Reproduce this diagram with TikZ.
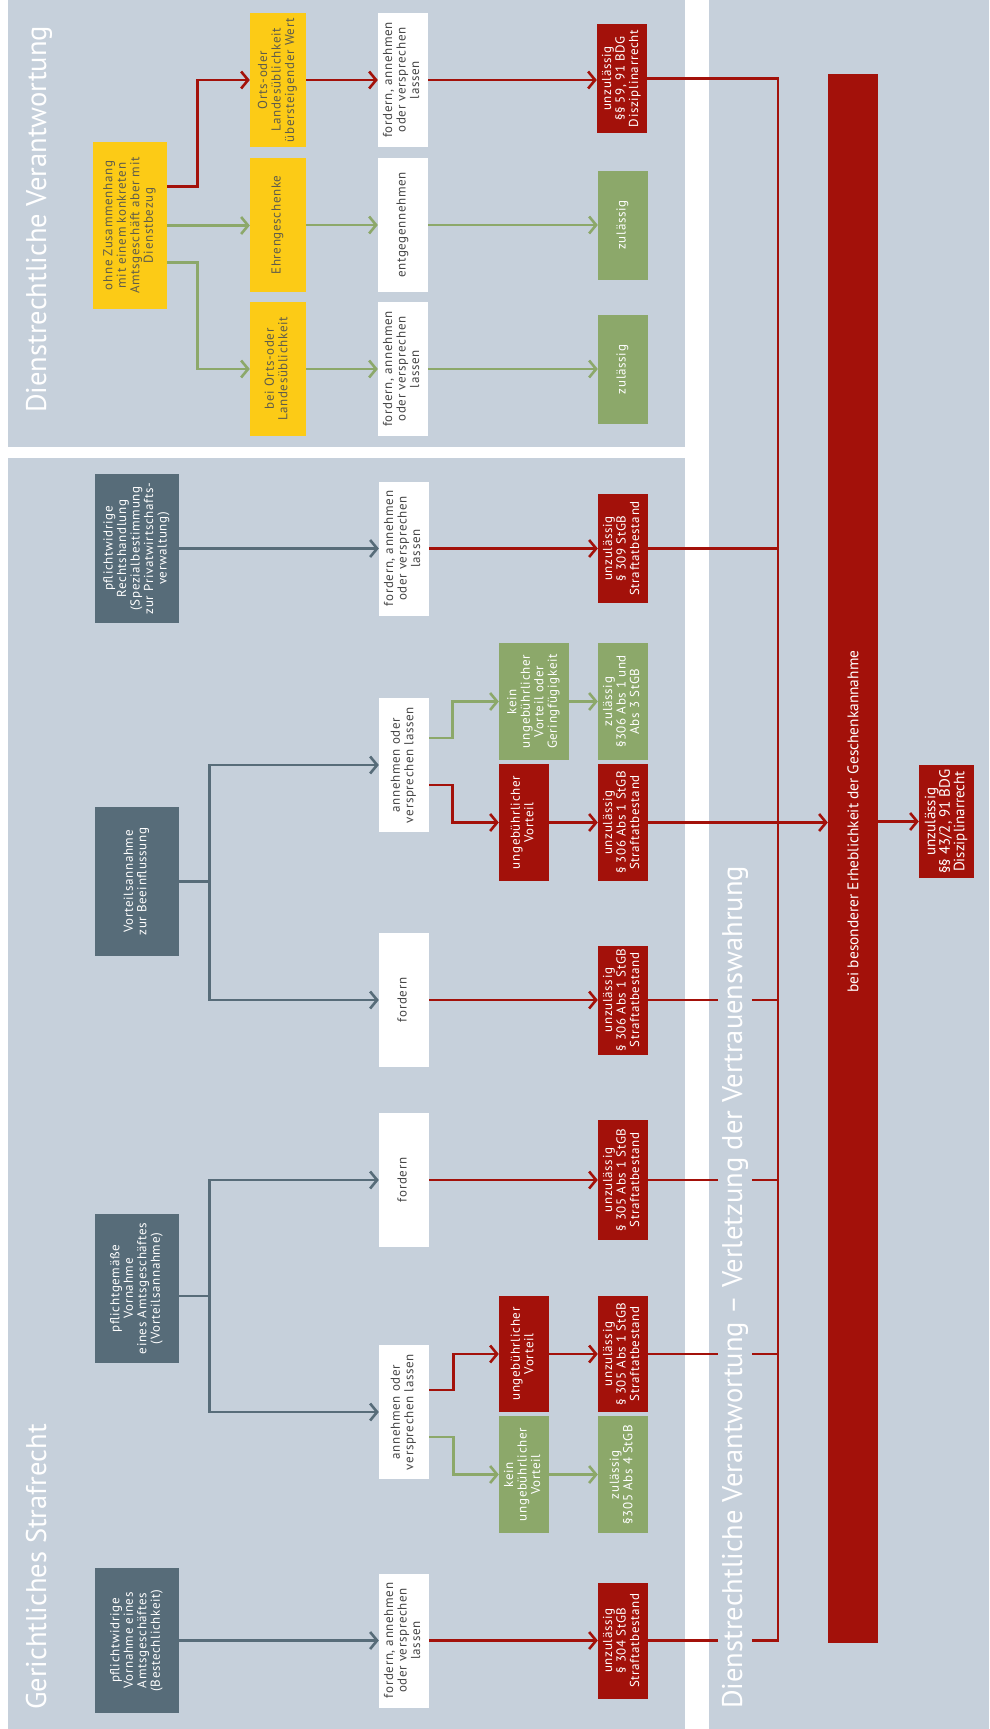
\documentclass[tikz,border=0pt]{standalone}
\usepackage{fontspec}
\usepackage{graphicx}
\setmainfont{PT Sans}
\newfontfamily\boxfont[LetterSpace=5]{PT Sans}
\newfontfamily\titlefont{PT Sans}
\usetikzlibrary{arrows.meta,calc}
\definecolor{panelblue}{RGB}{198,208,219}
\definecolor{slategray}{RGB}{87,108,121}
\definecolor{crimsonred}{RGB}{163,17,10}
\definecolor{sagegreen}{RGB}{140,168,106}
\definecolor{signalyellow}{RGB}{252,203,22}
\definecolor{boxtext}{RGB}{70,70,70}
\definecolor{yellowtext}{RGB}{95,92,75}
\newcommand{\vt}[1]{\rotatebox{90}{\begin{tabular}{@{}c@{}}#1\end{tabular}}}

\begin{document}
\begin{tikzpicture}[x=1pt,y=-1pt,
    box/.style={inner sep=0pt, minimum width=50pt,
      font={\boxfont\fontsize{13}{13.5}\selectfont}},
    yellowbox/.style={box, fill=signalyellow, text=yellowtext},
    whitebox/.style={box, fill=white, text=boxtext, minimum height=134pt},
    redbox/.style={box, fill=crimsonred, text=white},
    greenbox/.style={box, fill=sagegreen, text=white},
    slatebox/.style={box, fill=slategray, text=white, minimum width=84pt},
    paneltitle/.style={rotate=90, anchor=base west, inner sep=0pt, text=white,
      font={\titlefont\fontsize{28.5}{30}\selectfont}},
    wire/.style={line width=2.6pt},
    arr/.style={wire, -{Straight Barb[length=7pt,width=17pt]}},
    redarrow/.style={arr, crimsonred},
    greenarrow/.style={arr, sagegreen},
    slatearrow/.style={arr, slategray},
    redwire/.style={wire, crimsonred}]

  % panels
  \fill[white] (0,0) rectangle (989,1729);
  \fill[panelblue] (8,0) rectangle (685,447);
  \fill[panelblue] (8,458) rectangle (685,1729);
  \fill[panelblue] (709,0) rectangle (989,1729);

  \node[paneltitle] (t1) at (46,413) {Dienstrechtliche Verantwortung};
  \node[paneltitle] (t2) at (46,1710) {Gerichtliches Strafrecht};

  % Dienstrecht
  \node[yellowbox, minimum width=74pt, minimum height=167pt] (y1) at (130,225.5)
    {\vt{ohne Zusammenhang\\mit einem konkreten\\Amtsgeschäft aber mit\\Dienstbezug}};
  \node[yellowbox, minimum width=56pt, minimum height=134pt] (y2) at (278,80)
    {\vt{Orts-oder\\Landesüblichkeit\\übersteigender Wert}};
  \node[yellowbox, minimum width=56pt, minimum height=134pt] (y3) at (278,225)
    {\vt{Ehrengeschenke}};
  \node[yellowbox, minimum width=56pt, minimum height=134pt] (y4) at (278,369)
    {\vt{bei Orts-oder\\Landesüblichkeit}};
  \node[whitebox] (w1) at (403,80) {\vt{fordern, annehmen\\oder versprechen\\lassen}};
  \node[whitebox] (w2) at (403,225) {\vt{entgegennehmen}};
  \node[whitebox] (w3) at (403,369) {\vt{fordern, annehmen\\oder versprechen\\lassen}};
  \node[redbox, minimum height=109pt] (r1) at (622,78.5)
    {\vt{unzulässig\\§§ 59, 91 BDG\\Disziplinarrecht}};
  \node[greenbox, minimum height=109pt] (g1) at (623,225) {\vt{zulässig}};
  \node[greenbox, minimum height=109pt] (g2) at (623,369.5) {\vt{zulässig}};

  % Strafrecht
  \node[slatebox, minimum height=149pt] (s1) at (137,548.5)
    {\vt{pflichtwidrige\\Rechtshandlung\\(Spezialbestimmung\\zur Privatwirtschafts-\\verwaltung)}};
  \node[whitebox] (w4) at (404,548.5) {\vt{fordern, annehmen\\oder versprechen\\lassen}};
  \node[redbox, minimum height=109pt] (r2) at (623,548.5)
    {\vt{unzulässig\\§ 309 StGB\\Straftatbestand}};

  \node[slatebox, minimum height=149pt] (s2) at (137,881.5)
    {\vt{Vorteilsannahme\\zur Beeinflussung}};
  \node[whitebox] (w5) at (404,765) {\vt{annehmen oder\\versprechen lassen}};
  \node[greenbox, minimum width=70pt, minimum height=117pt] (g3) at (534,701.5)
    {\vt{kein\\ungebührlicher\\Vorteil oder\\Geringfügigkeit}};
  \node[greenbox, minimum height=117pt] (g4) at (623,701.5)
    {\vt{zulässig\\§306 Abs 1 und\\Abs 3 StGB}};
  \node[redbox, minimum height=117pt] (r3) at (524,822.5) {\vt{ungebührlicher\\Vorteil}};
  \node[redbox, minimum height=117pt] (r4) at (623,822.5)
    {\vt{unzulässig\\§ 306 Abs 1 StGB\\Straftatbestand}};
  \node[whitebox] (w6) at (404,1000) {\vt{fordern}};
  \node[redbox, minimum height=109pt] (r5) at (623,1000)
    {\vt{unzulässig\\§ 306 Abs 1 StGB\\Straftatbestand}};

  \node[slatebox, minimum height=149pt] (s3) at (137,1288.5)
    {\vt{pflichtgemäße\\Vornahme\\eines Amtsgeschäftes\\(Vorteilsannahme)}};
  \node[whitebox] (w7) at (404,1180) {\vt{fordern}};
  \node[redbox, minimum height=120pt] (r6) at (623,1180)
    {\vt{unzulässig\\§ 305 Abs 1 StGB\\Straftatbestand}};
  \node[whitebox] (w8) at (404,1412) {\vt{annehmen oder\\versprechen lassen}};
  \node[redbox, minimum height=116pt] (r7) at (524,1354) {\vt{ungebührlicher\\Vorteil}};
  \node[redbox, minimum height=116pt] (r8) at (623,1354)
    {\vt{unzulässig\\§ 305 Abs 1 StGB\\Straftatbestand}};
  \node[greenbox, minimum height=117pt] (g5) at (524,1474.5)
    {\vt{kein\\ungebührlicher\\Vorteil}};
  \node[greenbox, minimum height=117pt] (g6) at (623,1474.5)
    {\vt{zulässig\\§305 Abs 4 StGB}};

  \node[slatebox, minimum height=145pt] (s4) at (137,1640.5)
    {\vt{pflichtwidrige\\Vornahme eines\\Amtsgeschäftes\\(Bestechlichkeit)}};
  \node[whitebox] (w9) at (404,1640.5) {\vt{fordern, annehmen\\oder versprechen\\lassen}};
  \node[redbox, minimum height=116pt] (r9) at (623,1640.5)
    {\vt{unzulässig\\§ 304 StGB\\Straftatbestand}};

  % Vertrauenswahrung
  \coordinate (bus) at (778,0);
  \node[redbox, minimum height=1569pt] (bar) at (853,858.5) {};
  \node[redbox, minimum width=55pt, minimum height=113pt,
    font={\fontsize{15}{13}\selectfont}] (r10) at (946.5,821.5)
    {\vt{unzulässig\\§§ 43/2, 91 BDG\\Disziplinarrecht}};
  \node[rotate=90, text=white, inner sep=0pt, font={\fontsize{15.4}{16}\selectfont}]
    (barlabel) at (bar.center |- r10) {bei besonderer Erheblichkeit der Geschenkannahme};

  % arrows Dienstrecht
  \draw[redarrow] ([yshift=39pt]y1.east) -- ++(30,0) |- (y2.west);
  \draw[greenarrow] (y1.east) -- (y1.east -| y3.west);
  \draw[greenarrow] ([yshift=-37pt]y1.east) -- ++(30,0) |- (y4.west);
  \draw[redarrow] (y2.east) -- (y2.east -| w1.west);
  \draw[redarrow] (w1.east) -- (w1.east -| r1.west);
  \draw[greenarrow] (y3.east) -- (y3.east -| w2.west);
  \draw[greenarrow] (w2.east) -- (w2.east -| g1.west);
  \draw[greenarrow] (y4.east) -- (y4.east -| w3.west);
  \draw[greenarrow] (w3.east) -- (w3.east -| g2.west);

  % arrows Strafrecht
  \draw[slatearrow] (s1.east) -- (s1.east -| w4.west);
  \draw[redarrow] (w4.east) -- (w4.east -| r2.west);
  \draw[slatearrow] (s2.east) -- ++(30,0) |- (w5.west);
  \draw[slatearrow] (s2.east) ++(30,0) |- (w6.west);
  \draw[greenarrow] ([yshift=27pt]w5.east) -- ++(23,0) |- (g3.west);
  \draw[redarrow] ([yshift=-20pt]w5.east) -- ++(23,0) |- (r3.west);
  \draw[greenarrow] (g3.east |- g4) -- (g4.west);
  \draw[redarrow] (r3.east) -- (r4.west);
  \draw[redarrow] (w6.east) -- (w6.east -| r5.west);
  \draw[slatearrow] ([yshift=-7.5pt]s3.east) -- ++(30,0) |- (w7.west);
  \draw[slatearrow] ([yshift=-7.5pt]s3.east) ++(30,0) |- (w8.west);
  \draw[redarrow] (w7.east) -- (w7.east -| r6.west);
  \draw[redarrow] ([yshift=22pt]w8.east) -- ++(24,0) |- (r7.west);
  \draw[greenarrow] ([yshift=-25pt]w8.east) -- ++(24,0) |- (g5.west);
  \draw[redarrow] (r7.east) -- (r8.west);
  \draw[greenarrow] (g5.east) -- (g6.west);
  \draw[slatearrow] (s4.east) -- (s4.east -| w9.west);
  \draw[redarrow] (w9.east) -- (w9.east -| r9.west);

  % collector
  \draw[redwire] (r1.east) -| (bus |- r9.east) -- (r9.east);
  \draw[redwire] (r2.east) -- (r2.east -| bus);
  \draw[redwire] (r5.east) -- (r5.east -| bus);
  \draw[redwire] (r6.east) -- (r6.east -| bus);
  \draw[redwire] (r8.east) -- (r8.east -| bus);
  \draw[redarrow] (r4.east) -- (r4.east -| bar.west);
  \draw[redarrow] (bar.east |- r10) -- (r10.west);

  \node[paneltitle, fill=panelblue, inner ysep=4pt] (t3) at (742,1709)
    {Dienstrechtliche Verantwortung – Verletzung der Vertrauenswahrung};
\end{tikzpicture}
\end{document}
